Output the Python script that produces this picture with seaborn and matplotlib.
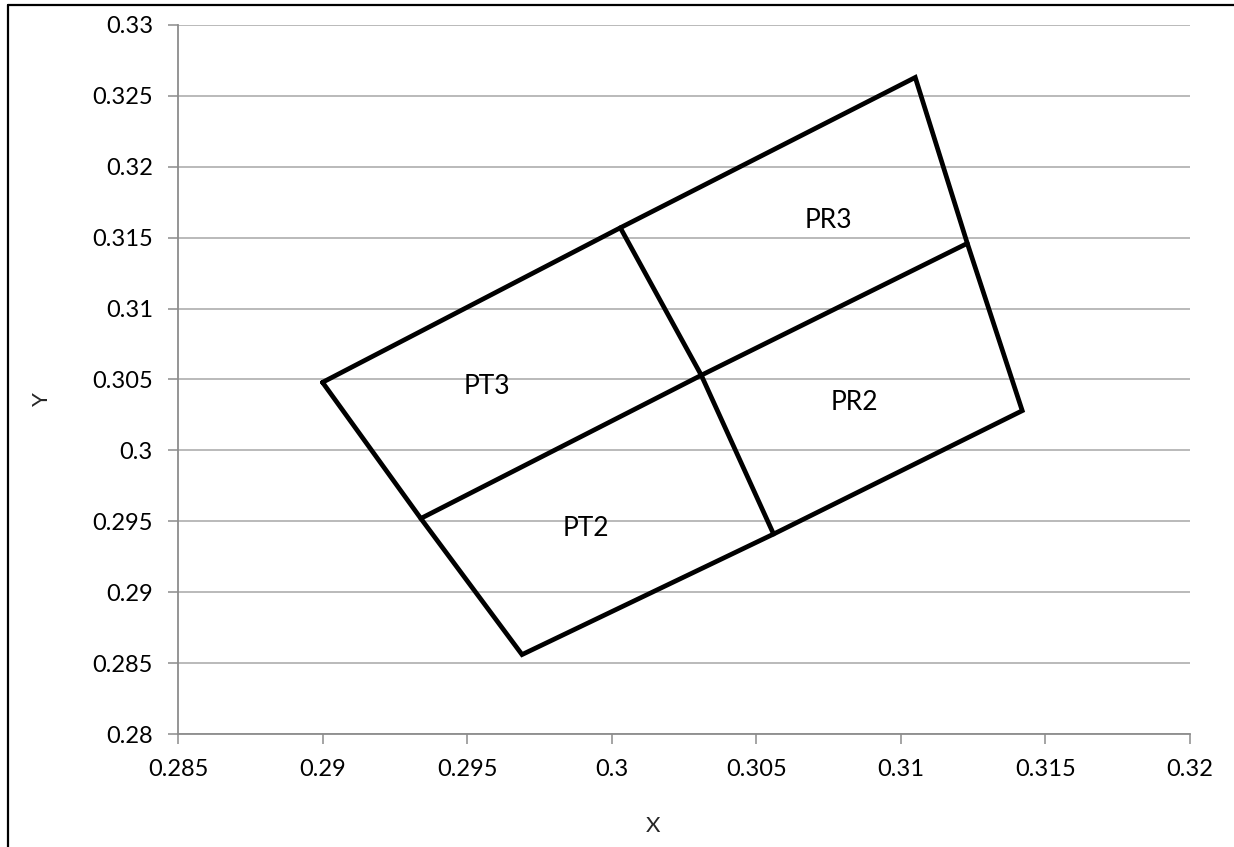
import pandas as pd
import matplotlib
matplotlib.use('Agg')
import matplotlib.pyplot as plt
from matplotlib.lines import Line2D
import seaborn as sns

# ── data ─────────────────────────────────────────────────────
# outer quadrilateral (closed), going round through the edge midpoints
outline_x = [0.2900, 0.3003, 0.3105, 0.3123, 0.3142, 0.3056, 0.2969, 0.2934, 0.2900]
outline_y = [0.3048, 0.3157, 0.3263, 0.3146, 0.3028, 0.2941, 0.2856, 0.2952, 0.3048]
# the two lines through the middle
mid1_x = [0.2934, 0.3031, 0.3123]
mid1_y = [0.2952, 0.3053, 0.3146]
mid2_x = [0.3003, 0.3031, 0.3056]
mid2_y = [0.3157, 0.3053, 0.2941]

label_text = ['PT3', 'PR3', 'PR2', 'PT2']
label_x = [0.2957, 0.3075, 0.3084, 0.2991]
label_y = [0.3045, 0.3162, 0.3034, 0.2945]

x_ticks = [0.285, 0.29, 0.295, 0.3, 0.305, 0.31, 0.315, 0.32]
y_ticks = [0.28, 0.285, 0.29, 0.295, 0.3, 0.305, 0.31, 0.315, 0.32, 0.325, 0.33]

df = pd.concat([
    pd.DataFrame({'x': outline_x, 'y': outline_y, 'seg': 'outline'}),
    pd.DataFrame({'x': mid1_x, 'y': mid1_y, 'seg': 'mid1'}),
    pd.DataFrame({'x': mid2_x, 'y': mid2_y, 'seg': 'mid2'}),
], ignore_index=True)

# ── style ────────────────────────────────────────────────────
sns.set_style('white')
plt.rcParams['font.family'] = ['Lato', 'DejaVu Sans']

fig = plt.figure(figsize=(12.34, 8.47), dpi=100)
ax = fig.add_axes([0.1442, 0.1334, 0.8201, 0.8371])

sns.lineplot(data=df, x='x', y='y', units='seg', estimator=None, sort=False,
             color='black', linewidth=3.4, ax=ax, solid_joinstyle='miter')

for t, xx, yy in zip(label_text, label_x, label_y):
    ax.text(xx, yy, t, ha='center', va='center', fontsize=19, color='black')

ax.set_xlim(0.285, 0.32)
ax.set_ylim(0.28, 0.33)
ax.set_xticks(x_ticks)
ax.set_yticks(y_ticks)
ax.set_xticklabels([f'{v:g}' for v in x_ticks])
ax.set_yticklabels([f'{v:g}' for v in y_ticks])
ax.yaxis.grid(True, color='#b4b4b4', linewidth=1.3)
ax.xaxis.grid(False)
ax.set_axisbelow(True)

for side in ['top', 'right']:
    ax.spines[side].set_visible(False)
for side in ['left', 'bottom']:
    ax.spines[side].set_color('#8c8c8c')
    ax.spines[side].set_linewidth(1.3)

ax.tick_params(axis='both', direction='out', length=7, width=1.1,
               color='#8c8c8c', labelsize=17, labelcolor='black', pad=11)
ax.tick_params(axis='x', bottom=True)
ax.tick_params(axis='y', left=True)

# axis titles sit a little off-centre, as in the original
ax.set_xlabel('X', fontsize=16)
ax.set_ylabel('Y', fontsize=16)
ax.xaxis.set_label_coords(0.469, -0.115)
ax.yaxis.set_label_coords(-0.124, 0.4725)

# frame round the picture (left and top edges show)
fig.add_artist(Line2D([0.0065, 0.0065], [0, 0.994], transform=fig.transFigure,
                      color='black', linewidth=1.6))
fig.add_artist(Line2D([0.0065, 1.0], [0.994, 0.994], transform=fig.transFigure,
                      color='black', linewidth=1.6))

plt.savefig('out.png', dpi=100)
plt.close()
